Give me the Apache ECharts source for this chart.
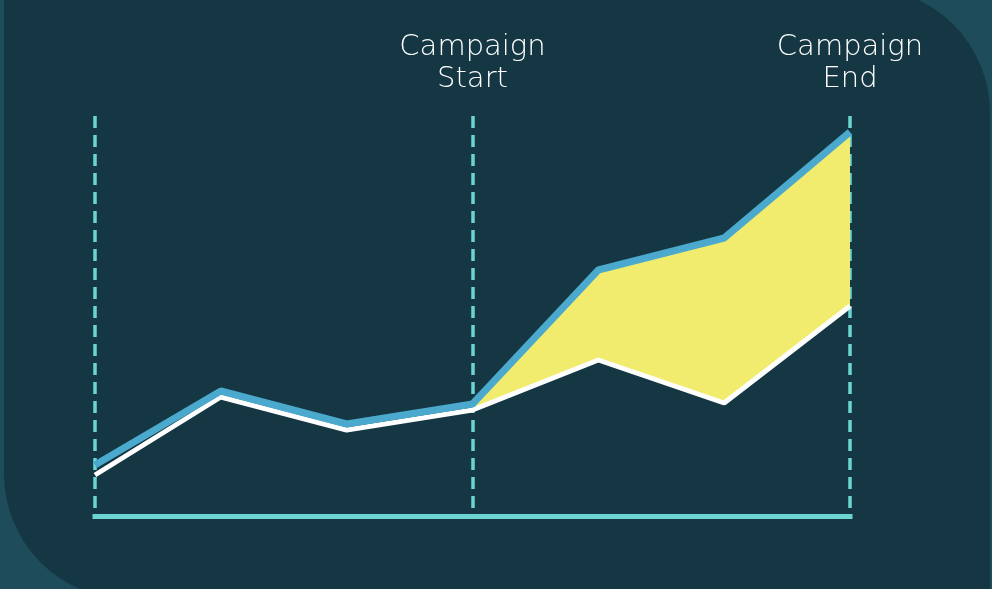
<!DOCTYPE html>
<html>

<head>
  <meta charset="utf-8">
  <title>campaign lift</title>
  <script src="https://cdn.jsdelivr.net/npm/echarts@6/dist/echarts.min.js"></script>
  <style>
    html,
    body {
      width: 100%;
      height: 100%;
      margin: 0;
      background: #1e4c5a;
    }

    #chart {
      width: 992px;
      height: 589px;
    }
  </style>
</head>

<body>
  <div id="chart"></div>
  <script>
    // periods along the x axis
    var periods = ['P1', 'P2', 'P3', 'P4', 'P5', 'P6', 'P7'];
    // with campaign (blue) and baseline (white)
    var withCampaign = [12.75, 31.25, 23, 28, 61.5, 69.5, 96];
    var baseline = [10.25, 29.75, 21.5, 26.5, 39, 28.25, 52.5];
    // labels shown above the marker lines
    var topLabels = ['', '', '', 'Campaign\nStart', '', '', 'Campaign\nEnd'];
    var markerIdx = [0, 3, 6];
    var campaignFrom = 3;

    var fillBase = baseline.map(function (v, i) { return i >= campaignFrom ? v : '-'; });
    var fillGap = withCampaign.map(function (v, i) { return i >= campaignFrom ? +(v - baseline[i]).toFixed(2) : '-'; });

    var myChart = echarts.init(document.getElementById('chart'));

    var option = {
      backgroundColor: '#1e4c5a',
      animation: false,
      graphic: [{
        type: 'rect',
        z: -10,
        silent: true,
        shape: { x: 4, y: -12, width: 986, height: 611, r: [0, 125, 0, 125] },
        style: { fill: '#143743' }
      }],
      grid: { left: 95, right: 142, top: 116, bottom: 73 },
      xAxis: [{
        type: 'category',
        data: periods,
        boundaryGap: false,
        axisLine: { show: true, lineStyle: { color: '#6dd5d1', width: 5, cap: 'square' } },
        axisTick: { show: false },
        axisLabel: { show: false },
        splitLine: {
          show: true,
          interval: function (i) { return markerIdx.indexOf(i) >= 0; },
          lineStyle: { color: '#6dd5d1', width: 3.5, type: [12, 7] }
        }
      }, {
        type: 'category',
        data: periods,
        position: 'top',
        boundaryGap: false,
        axisLine: { show: false },
        axisTick: { show: false },
        axisLabel: {
          interval: 0,
          margin: 21,
          color: '#ffffff',
          fontFamily: 'DejaVu Sans',
          fontWeight: 200,
          fontSize: 29,
          lineHeight: 32,
          formatter: function (v, i) { return topLabels[i]; }
        }
      }],
      yAxis: { type: 'value', min: 0, max: 100, show: false },
      series: [{
        name: 'base',
        type: 'line',
        stack: 'gap',
        data: fillBase,
        symbol: 'none',
        lineStyle: { width: 0, opacity: 0 },
        z: 1
      }, {
        name: 'gap',
        type: 'line',
        stack: 'gap',
        data: fillGap,
        symbol: 'none',
        lineStyle: { width: 0, opacity: 0 },
        areaStyle: { color: '#f2ec6e', opacity: 1 },
        z: 1
      }, {
        name: 'baseline',
        type: 'line',
        data: baseline,
        symbol: 'none',
        lineStyle: { color: '#ffffff', width: 5 },
        z: 3
      }, {
        name: 'with campaign',
        type: 'line',
        data: withCampaign,
        symbol: 'none',
        lineStyle: { color: '#4aa9cd', width: 7 },
        z: 4
      }]
    };
    myChart.setOption(option);
  </script>
</body>

</html>
